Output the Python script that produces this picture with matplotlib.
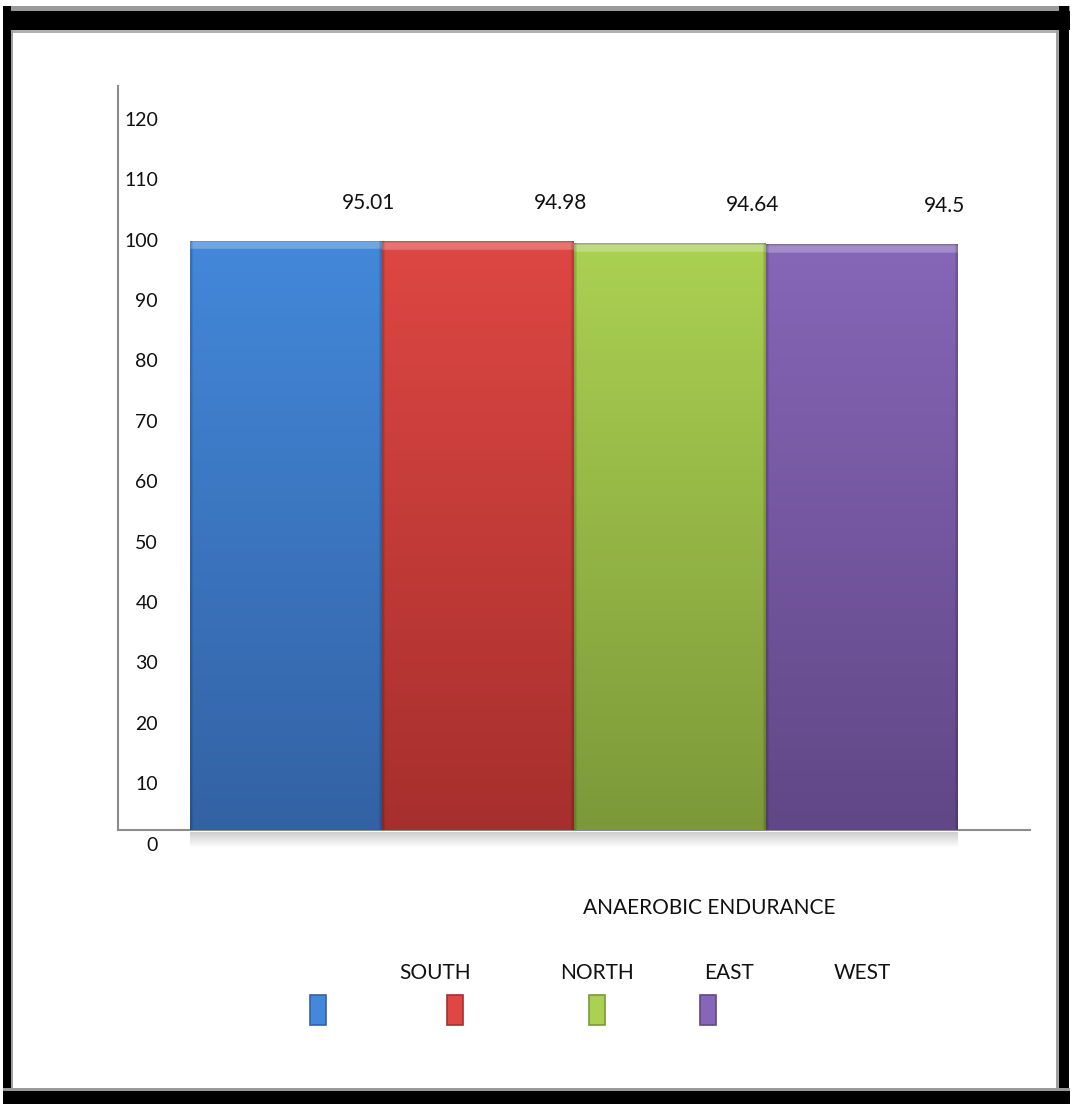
import numpy as np
import matplotlib
matplotlib.use('Agg')
import matplotlib.pyplot as plt
from matplotlib.colors import to_rgb
from matplotlib.patches import Rectangle

# ---- data ----
categories = ['SOUTH', 'NORTH', 'EAST', 'WEST']
values = [95.01, 94.98, 94.64, 94.5]
value_labels = ['95.01', '94.98', '94.64', '94.5']
tick_labels = ['0', '10', '20', '30', '40', '50', '60', '70', '80', '90', '100', '110', '120']
axis_title = 'ANAEROBIC ENDURANCE'
top_colors = ['#4388DA', '#DE4743', '#ABD152', '#8666B8']
bottom_colors = ['#3362A4', '#A62F2D', '#7C9939', '#614786']

plt.rcParams['font.family'] = ['Lato', 'DejaVu Sans']

W, H = 1073, 1105
fig = plt.figure(figsize=(W / 100, H / 100), dpi=100)
fig.patch.set_facecolor('white')

def fx(px):
    return px / W

def fy(py):
    return 1 - py / H

# axes: left x=118, right x=1030, bottom y=830, top y=86
ax = fig.add_axes([fx(118), fy(830), fx(1030) - fx(118), fy(86) - fy(830)])
ax.set_facecolor('none')
x = np.arange(len(categories))
bars = ax.bar(x, values, width=0.995, color=top_colors, edgecolor='none', zorder=2)

# gradient fill for each bar
n = 400
for b, tc, bc in zip(bars, top_colors, bottom_colors):
    t = np.array(to_rgb(tc))
    bo = np.array(to_rgb(bc))
    frac = np.linspace(0, 1, n)[:, None]  # 0 top -> 1 bottom
    col = t[None, :] * (1 - frac) + bo[None, :] * frac
    bevel = frac[:, 0] < 0.014
    col[bevel] = np.clip(col[bevel] * 0.75 + 0.25, 0, 1)
    col[:1] = col[:1] * 0.8
    img = np.repeat(col[:, None, :], 80, axis=1)
    img[:, :1, :] *= 0.82
    img[:, -1:, :] *= 0.82
    x0 = b.get_x()
    x1 = x0 + b.get_width()
    h = b.get_height()
    im = ax.imshow(img, extent=(x0, x1, 0, h), aspect='auto', zorder=3,
                   interpolation='bilinear')
    im.set_clip_path(b)

ax.set_xlim(-0.875, 3.875)
ax.set_ylim(0, 120)

# value labels
for xi, v, lab in zip(x, values, value_labels):
    ax.text(xi + 0.43, v + 6.1, lab, ha='center', va='center', fontsize=15,
            color='#111111', zorder=5)

# y tick labels (drawn offset below their gridline positions, as in original)
ax.set_yticks([])
ax.set_xticks([])
for k, lab in enumerate(tick_labels):
    ax.text(0.0439, -2.42 + k * 9.74, lab, transform=ax.get_yaxis_transform(),
            ha='right', va='center', fontsize=14, color='#111111', clip_on=False)

for s in ['top', 'right']:
    ax.spines[s].set_visible(False)
for s in ['left', 'bottom']:
    ax.spines[s].set_color('#8C8C8C')
    ax.spines[s].set_linewidth(1.5)
ax.spines['left'].set_zorder(6)

# soft shadow under bars
shadow = np.linspace(0.80, 1.0, 20)[:, None, None] * np.ones((20, 2, 3))
sax = fig.add_axes([fx(190), fy(848), fx(958) - fx(190), fy(832) - fy(848)])
sax.imshow(shadow, aspect='auto', extent=(0, 1, 0, 1), interpolation='bilinear')
sax.axis('off')

# axis title
fig.text(fx(709), fy(908), axis_title, ha='center', va='center', fontsize=15,
         color='#111111')

# legend
legend_text_x = [435, 597, 729, 862]
legend_mark_x = [318, 455, 597, 708]
for cat, tx, mx, tc, bc in zip(categories, legend_text_x, legend_mark_x,
                               top_colors, bottom_colors):
    fig.text(fx(tx), fy(973), cat, ha='center', va='center', fontsize=15,
             color='#111111')
    fig.patches.append(Rectangle((fx(mx - 8), fy(1025)), 16 / W, 30 / H,
                                 transform=fig.transFigure, facecolor=tc,
                                 edgecolor=bc, linewidth=1.2))

# frame
def frame_rect(x0, y0, x1, y1, color):
    fig.patches.append(Rectangle((fx(x0), fy(y1)), (x1 - x0) / W, (y1 - y0) / H,
                                 transform=fig.transFigure, facecolor=color,
                                 edgecolor='none', zorder=10))

frame_rect(3, 6, 1070, 11, '#9a9a9a')
frame_rect(3, 11, 1070, 30, '#000000')
frame_rect(12, 30, 1058, 33, '#b0b0b0')
frame_rect(3, 6, 11, 1104, '#000000')
frame_rect(11, 30, 13, 1088, '#a0a0a0')
frame_rect(1059, 6, 1069, 1104, '#000000')
frame_rect(1056, 30, 1059, 1088, '#a0a0a0')
frame_rect(3, 1088, 1070, 1091, '#9a9a9a')
frame_rect(3, 1091, 1070, 1104, '#000000')

fig.savefig('out.png', dpi=100, facecolor='white')
